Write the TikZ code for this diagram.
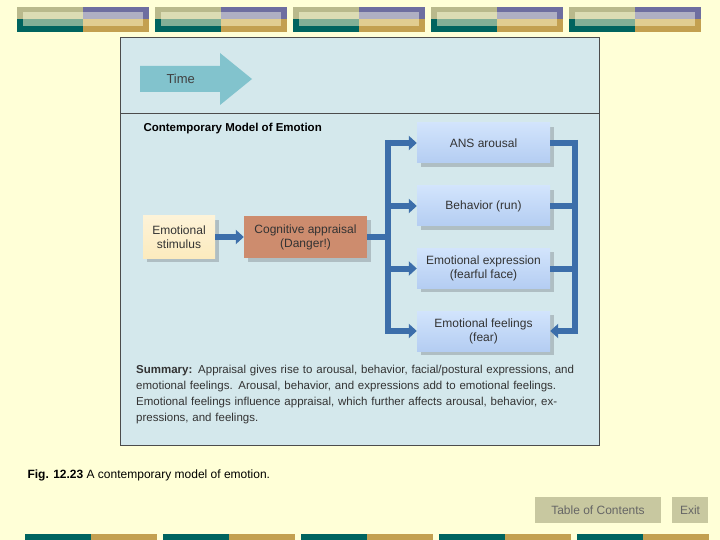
\documentclass[tikz,border=0pt]{standalone}
\usepackage{fontspec}
\setmainfont{Liberation Sans}
\usetikzlibrary{arrows.meta}
\definecolor{cream}{RGB}{255,255,215}
\definecolor{panel}{RGB}{212,232,236}
\definecolor{olive}{RGB}{185,185,140}
\definecolor{olivel}{RGB}{220,220,180}
\definecolor{purp}{RGB}{110,110,160}
\definecolor{purpl}{RGB}{175,175,195}
\definecolor{teal2}{RGB}{0,100,95}
\definecolor{teall}{RGB}{130,175,150}
\definecolor{gold}{RGB}{195,160,80}
\definecolor{goldl}{RGB}{225,205,145}
\definecolor{timec}{RGB}{130,195,205}
\definecolor{flow}{RGB}{60,110,170}
\definecolor{boxb}{RGB}{180,205,242}
\definecolor{boxbl}{RGB}{210,228,252}
\definecolor{stim}{RGB}{252,235,190}
\definecolor{cogn}{RGB}{205,140,110}
\definecolor{shade}{RGB}{175,190,195}
\definecolor{btn}{RGB}{200,200,160}
\begin{document}
\begin{tikzpicture}[x=1pt,y=-1pt,font=\fontsize{12}{14}\selectfont]
\tikzstyle{stage}=[minimum width=133pt, minimum height=40pt, inner sep=1pt, align=center, top color=boxbl, bottom color=boxb, draw=none, text=black!80]
\tikzstyle{flowline}=[draw=flow, line width=6pt]
\tikzstyle{flowarrow}=[flowline, -{Triangle[length=8pt,width=14pt]}]
\tikzstyle{shadow}=[fill=shade]

% page and top/bottom bars
\fill[cream] (0,0) rectangle (720,540);
\foreach \bx in {17,155,293,431,569} {
    \fill[olive] (\bx,7) rectangle +(66,12);
    \fill[purp] (\bx+66,7) rectangle +(66,12);
    \fill[teal2] (\bx,19) rectangle +(66,13);
    \fill[gold] (\bx+66,19) rectangle +(66,13);
    \fill[olivel] (\bx+6,12) rectangle +(60,7);
    \fill[purpl] (\bx+66,12) rectangle +(60,7);
    \fill[teall] (\bx+6,19) rectangle +(60,7);
    \fill[goldl] (\bx+66,19) rectangle +(60,7);
    \fill[teal2] (\bx+8,534) rectangle +(66,6);
    \fill[gold] (\bx+74,534) rectangle +(66,6);
}

% panel
\draw[fill=panel, draw=black!70] (120,37) rectangle (599,445);
\draw[black!70] (120,113) -- (599,113);
\fill[timec] (140,66) -- (220,66) -- (220,53) -- (252,79) -- (220,105) -- (220,92) -- (140,92) -- cycle;
\node[anchor=west, text=black!75, font=\fontsize{13}{15}\selectfont] (time) at (163,79) {Time};
\node[anchor=west, font=\fontsize{11.5}{13}\selectfont\bfseries] (title) at (140,129) {Contemporary Model of Emotion};

% boxes
\foreach \yy in {123,186,248,311}
    \fill[shadow] (421,\yy+4) rectangle (554,\yy+44);
\fill[shadow] (147,220) rectangle (219,262);
\fill[shadow] (248,220) rectangle (371,262);
\node[stage] (ans) at (483.5,143) {ANS arousal};
\node[stage] (beh) at (483.5,206) {Behavior (run)};
\node[stage] (expr) at (483.5,268.5) {Emotional expression\\(fearful face)};
\node[stage] (feel) at (483.5,331) {Emotional feelings\\(fear)};
\node[minimum width=72pt, minimum height=42pt, inner sep=1pt, align=center, top color=stim!60, bottom color=stim, text=black!80] (stimulus) at (179,237) {Emotional\\stimulus};
\node[minimum width=123pt, minimum height=42pt, inner sep=1pt, align=center, fill=cogn, text=black!80] (appraisal) at (305.5,237) {Cognitive appraisal\\(Danger!)};

% connectors
\draw[flowarrow] (stimulus.east) -- (appraisal.west);
\coordinate (split) at (388,237);
\draw[flowline] (appraisal.east) -- (split);
\draw[flowline] (388,140) -- (388,334);
\foreach \t in {ans,beh,expr,feel}
    \draw[flowarrow] ([xshift=-3pt]split |- \t) -- (\t.west);
\coordinate (merge) at (575,143);
\foreach \t in {ans,beh,expr}
    \draw[flowline] (\t.east) -- ([xshift=3pt]merge |- \t);
\draw[flowline] (575,140) -- (575,334);
\draw[flowarrow] ([xshift=3pt]merge |- feel) -- (feel.east);

% summary
\node[anchor=north west, align=left, text width=440pt, inner sep=0pt, text=black!80, font=\fontsize{11.5}{16}\selectfont] (summary) at (136,365)
{\textbf{Summary:} Appraisal gives rise to arousal, behavior, facial/postural expressions, and emotional feelings. Arousal, behavior, and expressions add to emotional feelings. Emotional feelings influence appraisal, which further affects arousal, behavior, expressions, and feelings.};

% caption and buttons
\node[anchor=west, font=\fontsize{12}{14}\selectfont] (caption) at (24,475) {\textbf{Fig. 12.23} A contemporary model of emotion.};
\node[fill=btn, minimum width=126pt, minimum height=26pt, text=black!60] (toc) at (598,510) {Table of Contents};
\node[fill=btn, minimum width=36pt, minimum height=26pt, text=black!60] (exit) at (690,510) {Exit};
\end{tikzpicture}
\end{document}
